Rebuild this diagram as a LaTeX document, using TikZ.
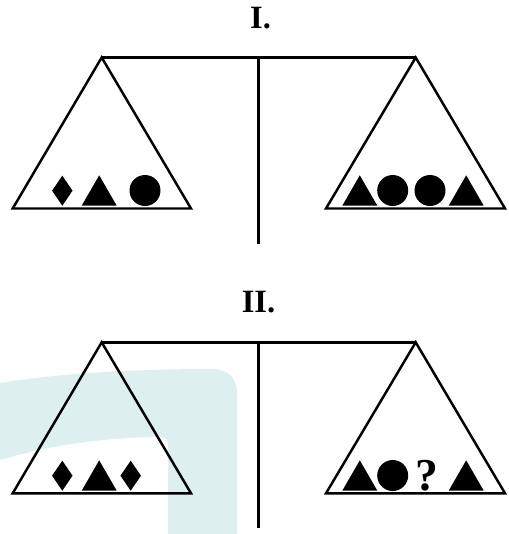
\documentclass[tikz,border=0pt]{standalone}
\usepackage{fontspec}
\setmainfont{Liberation Serif}
\usepackage{tikz}
\usetikzlibrary{shapes.geometric, positioning}
\definecolor{markteal}{RGB}{221,239,239}
\tikzset{
  beamline/.style={line width=1.4pt, line join=miter},
  pantitle/.style={font=\bfseries\fontsize{18.5}{20}\selectfont, inner sep=0pt},
  wdiamond/.style={diamond, fill=black, inner sep=0pt, outer sep=0pt,
    minimum width=0.41cm, minimum height=0.6cm, anchor=south},
  wtri/.style={regular polygon, regular polygon sides=3, fill=black,
    inner sep=0pt, outer sep=0pt, minimum size=0.81cm, anchor=south},
  wball/.style={circle, fill=black, inner sep=0pt, outer sep=0pt,
    minimum size=0.62cm, anchor=south},
  wquery/.style={font=\bfseries\fontsize{26}{28}\selectfont, inner sep=0pt, anchor=base},
}

\begin{document}
\begin{tikzpicture}[x=0.02cm, y=-0.02cm]
  \useasboundingbox (0,0) rectangle (509,534);

  % === Watermark ===
  \fill[markteal] (0,383) .. controls (60,373) and (140,369) .. (212,369)
    .. controls (228,369) and (237,378) .. (237,394) -- (237,534) -- (0,534) -- cycle;
  \fill[white] (0,460) .. controls (50,445) and (110,437) .. (160,437)
    .. controls (165,437) and (168,440) .. (168,445) -- (168,534) -- (0,534) -- cycle;

  % === Balance I ===
  \node[pantitle] (title1) at (260.5,18) {I.};
  \coordinate (lhook1) at (101.7,57.5);
  \coordinate (rhook1) at (415.7,57.5);
  \coordinate (post1) at (258.3,57.5);
  \coordinate (foot1) at (258.3,244);
  \coordinate (lpanA1) at (12.7,208.5);
  \coordinate (lpanB1) at (191,208.5);
  \coordinate (rpanA1) at (326,208.5);
  \coordinate (rpanB1) at (505,208.5);

  \draw[beamline] (lhook1) -- (rhook1);
  \draw[beamline] (post1) -- (foot1);
  \draw[beamline] (lhook1) -- (lpanA1) -- (lpanB1) -- cycle;
  \draw[beamline] (rhook1) -- (rpanA1) -- (rpanB1) -- cycle;

  \node[wdiamond] (l1a) at (62.3,205.7) {};
  \node[wtri]     (l1b) at (99.2,205.7) {};
  \node[wball]    (l1c) at (145,206) {};

  \node[wtri]  (r1a) at (359.8,205.7) {};
  \node[wball] (r1b) at (392.7,206) {};
  \node[wball] (r1c) at (430,206) {};
  \node[wtri]  (r1d) at (466.2,205.7) {};

  % === Balance II ===
  \node[pantitle] (title2) at (258.5,302) {II.};
  \coordinate (lhook2) at (101.7,342.3);
  \coordinate (rhook2) at (415.7,342.3);
  \coordinate (post2) at (258.3,342.3);
  \coordinate (foot2) at (258.3,528.3);
  \coordinate (lpanA2) at (12.7,493.3);
  \coordinate (lpanB2) at (191,493.3);
  \coordinate (rpanA2) at (326,493.3);
  \coordinate (rpanB2) at (505,493.3);

  \draw[beamline] (lhook2) -- (rhook2);
  \draw[beamline] (post2) -- (foot2);
  \draw[beamline] (lhook2) -- (lpanA2) -- (lpanB2) -- cycle;
  \draw[beamline] (rhook2) -- (rpanA2) -- (rpanB2) -- cycle;

  \node[wdiamond] (l2a) at (62.3,490.7) {};
  \node[wtri]     (l2b) at (99.2,490.7) {};
  \node[wdiamond] (l2c) at (130.7,490.7) {};

  \node[wtri]   (r2a) at (359.8,490.7) {};
  \node[wball]  (r2b) at (392.7,491) {};
  \node[wquery] (r2c) at (426.7,490) {?};
  \node[wtri]   (r2d) at (466.2,490.7) {};

\end{tikzpicture}
\end{document}
